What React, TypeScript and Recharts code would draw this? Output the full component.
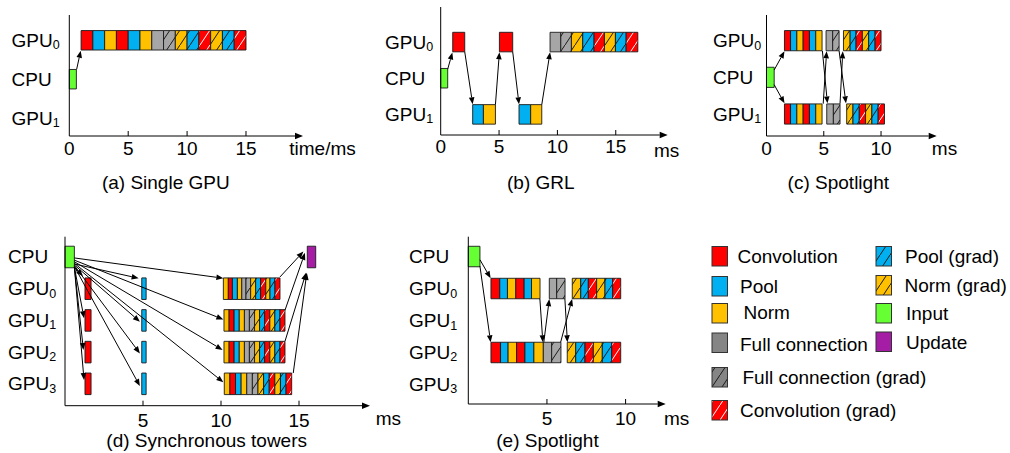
import { ComposedChart, XAxis, YAxis, ReferenceArea, ReferenceLine } from "recharts";

type Kind =
  | "conv" | "pool" | "norm" | "fc" | "fcGrad" | "normGrad"
  | "poolGrad" | "convGrad" | "input" | "update";

type Run = { row: number; edges: number[]; kinds: Kind[] };
type Arrow = [number, number, number, number];

const FONT = "'Liberation Sans', Arial, sans-serif";

const FILL: Record<Kind, string> = {
  conv: "#ff0000",
  pool: "#00b0f0",
  norm: "#ffc000",
  fc: "#a6a6a6",
  fcGrad: "url(#hatch-fcGrad)",
  normGrad: "url(#hatch-normGrad)",
  poolGrad: "url(#hatch-poolGrad)",
  convGrad: "url(#hatch-convGrad)",
  input: "#66ff33",
  update: "#a51ca5",
};

const FWD: Kind[] = ["conv", "pool", "norm", "conv", "pool", "norm"];
const BWD: Kind[] = ["normGrad", "poolGrad", "convGrad", "normGrad", "poolGrad", "convGrad"];
const TOWER: Kind[] = [
  "norm", "conv", "pool", "norm", "fc", "fcGrad",
  "normGrad", "poolGrad", "convGrad", "normGrad", "poolGrad", "convGrad",
];

// (a) Single GPU
const rowsA = ["GPU0", "CPU", "GPU1"];
const ticksA = [0, 5, 10, 15];
const runsA: Run[] = [
  { row: 1, edges: [0, 0.6], kinds: ["input"] },
  {
    row: 0,
    edges: [1, 2, 3, 4, 5, 6, 7, 8, 9, 10, 11, 12, 13, 14, 15],
    kinds: [...FWD, "fc", "fcGrad", ...BWD],
  },
];
const arrowsA: Arrow[] = [[0.62, 0.75, 0.97, 0.27]];

// (b) GRL
const rowsB = ["GPU0", "CPU", "GPU1"];
const ticksB = [0, 5, 10, 15];
const runsB: Run[] = [
  { row: 1, edges: [0, 0.6], kinds: ["input"] },
  { row: 0, edges: [1.03, 2.06], kinds: ["conv"] },
  { row: 2, edges: [2.74, 3.66, 4.69], kinds: ["pool", "norm"] },
  { row: 0, edges: [5.03, 6.17], kinds: ["conv"] },
  { row: 2, edges: [6.71, 7.71, 8.66], kinds: ["pool", "norm"] },
  {
    row: 0,
    edges: [9.37, 10.29, 11.2, 12.17, 13.14, 14.03, 14.97, 15.89, 16.89],
    kinds: ["fc", "fcGrad", ...BWD],
  },
];
const arrowsB: Arrow[] = [
  [0.6, 0.75, 1.0, 0.29],
  [2.06, 0.27, 2.74, 1.72],
  [4.69, 1.73, 5.03, 0.28],
  [6.17, 0.27, 6.71, 1.72],
  [8.66, 1.73, 9.37, 0.28],
];

// (c) Spotlight, two GPUs
const rowsC = ["GPU0", "CPU", "GPU1"];
const ticksC = [0, 5, 10];
const runsC: Run[] = [
  { row: 1, edges: [0, 0.67], kinds: ["input"] },
  { row: 0, edges: [1.57, 2.1, 2.65, 3.2, 3.75, 4.3, 4.85], kinds: FWD },
  { row: 0, edges: [5.2, 5.78, 6.34], kinds: ["fc", "fcGrad"] },
  { row: 0, edges: [6.72, 7.3, 7.82, 8.37, 8.92, 9.48, 10.0], kinds: BWD },
  { row: 2, edges: [1.57, 2.1, 2.65, 3.2, 3.75, 4.3, 4.85], kinds: FWD },
  { row: 2, edges: [5.26, 5.84, 6.42], kinds: ["fc", "fcGrad"] },
  { row: 2, edges: [7.0, 7.55, 8.1, 8.65, 9.2, 9.75, 10.3], kinds: BWD },
];
const arrowsC: Arrow[] = [
  [0.67, 0.8, 1.57, 0.29],
  [0.67, 1.2, 1.57, 1.71],
  [4.88, 0.28, 5.32, 1.71],
  [4.95, 1.72, 5.25, 0.29],
  [6.34, 0.28, 6.94, 1.71],
  [6.42, 1.72, 6.66, 0.29],
];

// (d) Synchronous towers
const rowsD = ["CPU", "GPU0", "GPU1", "GPU2", "GPU3"];
const ticksD = [5, 10, 15];
const runsD: Run[] = [
  { row: 0, edges: [0, 0.6], kinds: ["input"] },
  { row: 1, edges: [1.28, 1.67], kinds: ["conv"] },
  { row: 2, edges: [1.28, 1.67], kinds: ["conv"] },
  { row: 3, edges: [1.28, 1.67], kinds: ["conv"] },
  { row: 4, edges: [1.28, 1.67], kinds: ["conv"] },
  { row: 1, edges: [4.92, 5.2], kinds: ["pool"] },
  { row: 2, edges: [4.92, 5.2], kinds: ["pool"] },
  { row: 3, edges: [4.92, 5.2], kinds: ["pool"] },
  { row: 4, edges: [4.92, 5.2], kinds: ["pool"] },
  {
    row: 1,
    edges: [10.15, 10.47, 10.73, 11.05, 11.33, 11.6, 11.9, 12.22, 12.54, 12.87, 13.14, 13.46, 13.78],
    kinds: TOWER,
  },
  {
    row: 2,
    edges: [10.19, 10.52, 10.84, 11.17, 11.5, 11.82, 12.15, 12.47, 12.8, 13.13, 13.45, 13.78, 14.1],
    kinds: TOWER,
  },
  {
    row: 3,
    edges: [10.19, 10.52, 10.84, 11.17, 11.5, 11.82, 12.15, 12.47, 12.8, 13.13, 13.45, 13.78, 14.1],
    kinds: TOWER,
  },
  {
    row: 4,
    edges: [10.21, 10.57, 10.93, 11.29, 11.65, 12.01, 12.37, 12.73, 13.09, 13.45, 13.81, 14.17, 14.53],
    kinds: TOWER,
  },
  { row: 0, edges: [15.53, 16.07], kinds: ["update"] },
];
const arrowsD: Arrow[] = [
  [0.6, 0.03, 10.15, 0.67],
  [0.6, 0.1, 10.15, 1.97],
  [0.6, 0.15, 10.1, 2.93],
  [0.6, 0.2, 10.15, 3.95],
  [0.6, 0.22, 4.72, 0.67],
  [0.6, 0.25, 4.8, 2.04],
  [0.6, 0.27, 4.8, 3.04],
  [0.6, 0.3, 4.8, 4.07],
  [0.6, 0.32, 1.15, 0.6],
  [0.6, 0.32, 1.22, 1.93],
  [0.6, 0.32, 1.18, 2.93],
  [0.6, 0.32, 1.22, 3.88],
  [13.78, 0.63, 15.28, -0.17],
  [14.1, 1.68, 15.38, -0.13],
  [14.1, 2.66, 15.45, 0.5],
  [14.63, 3.66, 15.5, 0.5],
];

// (e) Spotlight, four GPUs
const rowsE = ["CPU", "GPU0", "GPU1", "GPU2", "GPU3"];
const ticksE = [5, 10];
const runsE: Run[] = [
  { row: 0, edges: [0, 0.74], kinds: ["input"] },
  { row: 1, edges: [1.44, 2.0, 2.49, 3.02, 3.55, 4.02, 4.56], kinds: FWD },
  { row: 1, edges: [5.15, 5.62, 6.15], kinds: ["fc", "fcGrad"] },
  { row: 1, edges: [6.61, 7.15, 7.63, 8.16, 8.69, 9.18, 9.69], kinds: BWD },
  { row: 3, edges: [1.44, 2.05, 2.53, 3.07, 3.6, 4.17, 4.77, 5.3, 5.89], kinds: [...FWD, "fc", "fcGrad"] },
  { row: 3, edges: [6.29, 6.83, 7.42, 7.95, 8.52, 9.12, 9.69], kinds: BWD },
];
const arrowsE: Arrow[] = [
  [0.74, 0.1, 1.42, 0.68],
  [0.74, 0.3, 1.42, 2.68],
  [4.55, 1.32, 4.74, 2.68],
  [4.8, 2.68, 5.15, 1.33],
  [5.87, 2.68, 6.6, 1.33],
  [6.14, 1.32, 6.3, 2.68],
];

const legendNames = [
  "Convolution", "Pool", "Norm", "Full connection", "Full connection (grad)",
  "Convolution (grad)", "Pool (grad)", "Norm (grad)", "Input", "Update",
];
const legendKinds: Kind[] = [
  "conv", "pool", "norm", "fc", "fcGrad", "convGrad", "poolGrad", "normGrad", "input", "update",
];

// layout: swatch top-left, text start / centre line
const LEGEND_POS = [
  { sx: 712, sy: 246.5, tx: 737.5, ty: 256.5 },
  { sx: 712, sy: 276.5, tx: 740, ty: 286.5 },
  { sx: 712, sy: 303.5, tx: 743.5, ty: 312.5 },
  { sx: 712, sy: 333, tx: 740, ty: 344 },
  { sx: 712, sy: 367.5, tx: 742.5, ty: 377.5 },
  { sx: 712, sy: 400.5, tx: 740, ty: 410.5 },
  { sx: 876, sy: 246.5, tx: 905, ty: 256.5 },
  { sx: 876, sy: 275.5, tx: 904.5, ty: 285 },
  { sx: 876, sy: 303.5, tx: 906, ty: 313.5 },
  { sx: 876, sy: 332, tx: 906, ty: 342.5 },
];

type Cfg = {
  L: number; T: number; W: number; H: number;
  x0: number; xt: number; yt: number; yb: number;
  xMax: number; yMin: number; yMax: number; h: number;
  labelX: number; tickBase: number;
};

const CFG_A: Cfg = { L: 0, T: 0, W: 370, H: 200, x0: 69.3, xt: 303, yt: 15, yb: 136, xMax: 19.84, yMin: -0.65, yMax: 2.46, h: 0.5, labelX: 11.5, tickBase: 154.5 };
const CFG_B: Cfg = { L: 375, T: 0, W: 310, H: 200, x0: 440.7, xt: 667.7, yt: 7, yb: 135, xMax: 19.45, yMin: -0.97, yMax: 2.57, h: 0.54, labelX: 385, tickBase: 153 };
const CFG_C: Cfg = { L: 690, T: 0, W: 320, H: 200, x0: 766.5, xt: 936.7, yt: 15, yb: 136, xMax: 14.86, yMin: -0.7, yMax: 2.6, h: 0.55, labelX: 713, tickBase: 155 };
const CFG_D: Cfg = { L: 0, T: 228, W: 375, H: 225, x0: 65, xt: 370, yt: 236.7, yb: 405.7, xMax: 19.55, yMin: -0.64, yMax: 4.69, h: 0.68, labelX: 8, tickBase: 426.5 };
const CFG_E: Cfg = { L: 400, T: 228, W: 290, H: 225, x0: 468.3, xt: 665.7, yt: 236.7, yb: 404, xMax: 12.55, yMin: -0.62, yMax: 4.61, h: 0.64, labelX: 409, tickBase: 425 };

const arrowShape = (head: number, half: number) => (p: any) => {
  const { x1, y1, x2, y2 } = p;
  const dx = x2 - x1;
  const dy = y2 - y1;
  const len = Math.hypot(dx, dy) || 1;
  const ux = dx / len;
  const uy = dy / len;
  const bx = x2 - ux * head;
  const by = y2 - uy * head;
  return (
    <g>
      <line x1={x1} y1={y1} x2={bx} y2={by} stroke="#000" strokeWidth={1} />
      <polygon
        points={`${x2},${y2} ${bx - uy * half},${by + ux * half} ${bx + uy * half},${by - ux * half}`}
        fill="#000"
      />
    </g>
  );
};

function Panel({ cfg, rows, runs, arrows, ticks }: { cfg: Cfg; rows: string[]; runs: Run[]; arrows: Arrow[]; ticks: number[] }) {
  const xAxisH = 40;
  const margin = {
    top: cfg.yt - cfg.T,
    right: cfg.L + cfg.W - cfg.xt,
    left: 0,
    bottom: cfg.T + cfg.H - cfg.yb - xAxisH,
  };
  const axisY = cfg.yb - cfg.T;
  const base = cfg.tickBase - cfg.T;
  const labelX = cfg.labelX - cfg.L;

  const timeTick = (p: any) => (
    <g>
      {p.payload.value !== 0 && (
        <line x1={p.x} x2={p.x} y1={axisY} y2={axisY - 5} stroke="#000" strokeWidth={1} />
      )}
      <text x={p.x} y={base} textAnchor="middle" fontFamily={FONT} fontSize={19} fill="#000">
        {p.payload.value}
      </text>
    </g>
  );

  const rowTick = (p: any) => {
    const label = rows[p.payload.value] ?? "";
    const m = label.match(/^(\D+)(\d*)$/);
    return (
      <text x={labelX} y={p.y + 6.5} fontFamily={FONT} fontSize={19} fill="#000">
        <tspan>{m ? m[1] : label}</tspan>
        {m && m[2] ? (
          <tspan fontSize={12.5} dy={2.5}>
            {m[2]}
          </tspan>
        ) : null}
      </text>
    );
  };

  const blocks = runs.flatMap((run, ri) =>
    run.kinds.map((kind, k) => (
      <ReferenceArea
        key={`b-${ri}-${k}`}
        x1={run.edges[k]}
        x2={run.edges[k + 1]}
        y1={run.row - cfg.h / 2}
        y2={run.row + cfg.h / 2}
        fill={FILL[kind]}
        fillOpacity={1}
        stroke="#1a1a1a"
        strokeWidth={0.9}
        ifOverflow="visible"
      />
    ))
  );

  return (
    <div style={{ position: "absolute", left: cfg.L, top: cfg.T }}>
      <ComposedChart width={cfg.W} height={cfg.H} margin={margin} data={[]}>
        <XAxis
          type="number"
          dataKey="t"
          domain={[0, cfg.xMax]}
          allowDataOverflow
          ticks={ticks}
          interval={0}
          height={xAxisH}
          axisLine={false}
          tickLine={false}
          tick={timeTick}
        />
        <YAxis
          type="number"
          dataKey="r"
          domain={[cfg.yMin, cfg.yMax]}
          allowDataOverflow
          reversed
          ticks={rows.map((_, i) => i)}
          interval={0}
          width={cfg.x0 - cfg.L}
          axisLine={{ stroke: "#000", strokeWidth: 1 }}
          tickLine={false}
          tick={rowTick}
        />
        {blocks}
        {arrows.map((a, i) => (
          <ReferenceLine
            key={`a-${i}`}
            segment={[{ x: a[0], y: a[1] }, { x: a[2], y: a[3] }]}
            ifOverflow="visible"
            shape={arrowShape(7, 2.8)}
          />
        ))}
        <ReferenceLine
          segment={[{ x: 0, y: cfg.yMax }, { x: cfg.xMax, y: cfg.yMax }]}
          ifOverflow="visible"
          shape={arrowShape(8, 3.2)}
        />
      </ComposedChart>
    </div>
  );
}

function Hatch({ id, color, line }: { id: string; color: string; line: string }) {
  return (
    <pattern id={id} width={10} height={15} patternUnits="userSpaceOnUse">
      <rect width={10} height={15} fill={color} />
      <path d="M-1,16.5 L11,-1.5" stroke={line} strokeWidth={1} />
    </pattern>
  );
}

const textStyle = { fontFamily: FONT, fontSize: 19, fill: "#000" };

export default function App() {
  return (
    <div style={{ position: "absolute", left: 0, top: 0, width: 1010, height: 453, background: "#fff" }}>
      <svg width={1010} height={453} style={{ position: "absolute", left: 0, top: 0 }}>
        <defs>
          <Hatch id="hatch-fcGrad" color="#a6a6a6" line="#1a1a1a" />
          <Hatch id="hatch-normGrad" color="#ffc000" line="#1a1a1a" />
          <Hatch id="hatch-poolGrad" color="#00b0f0" line="#1a1a1a" />
          <Hatch id="hatch-convGrad" color="#ff0000" line="#ffffff" />
          <Hatch id="hatch-fcGradLegend" color="#858585" line="#1a1a1a" />
        </defs>
        <text x={289.3} y={154.5} {...textStyle}>time/ms</text>
        <text x={666.7} y={156.5} textAnchor="middle" {...textStyle}>ms</text>
        <text x={944.5} y={154.5} textAnchor="middle" {...textStyle}>ms</text>
        <text x={388.3} y={424.5} textAnchor="middle" {...textStyle}>ms</text>
        <text x={676.7} y={424.5} textAnchor="middle" {...textStyle}>ms</text>
        <text x={165.8} y={189} textAnchor="middle" {...textStyle}>(a) Single GPU</text>
        <text x={540.8} y={189} textAnchor="middle" {...textStyle}>(b) GRL</text>
        <text x={838.3} y={189} textAnchor="middle" {...textStyle}>(c) Spotlight</text>
        <text x={206.7} y={446.5} textAnchor="middle" {...textStyle}>(d) Synchronous towers</text>
        <text x={547.5} y={446.5} textAnchor="middle" {...textStyle}>(e) Spotlight</text>
        {legendNames.map((name, i) => {
          const pos = LEGEND_POS[i];
          const kind = legendKinds[i];
          const fill = kind === "fc" ? "#858585" : kind === "fcGrad" ? "url(#hatch-fcGradLegend)" : FILL[kind];
          return (
            <g key={name}>
              <rect x={pos.sx} y={pos.sy} width={15.5} height={19.5} fill={fill} stroke="#333" strokeWidth={1} />
              <text x={pos.tx} y={pos.ty + 6.8} {...textStyle}>{name}</text>
            </g>
          );
        })}
      </svg>
      <Panel cfg={CFG_A} rows={rowsA} runs={runsA} arrows={arrowsA} ticks={ticksA} />
      <Panel cfg={CFG_B} rows={rowsB} runs={runsB} arrows={arrowsB} ticks={ticksB} />
      <Panel cfg={CFG_C} rows={rowsC} runs={runsC} arrows={arrowsC} ticks={ticksC} />
      <Panel cfg={CFG_D} rows={rowsD} runs={runsD} arrows={arrowsD} ticks={ticksD} />
      <Panel cfg={CFG_E} rows={rowsE} runs={runsE} arrows={arrowsE} ticks={ticksE} />
    </div>
  );
}
